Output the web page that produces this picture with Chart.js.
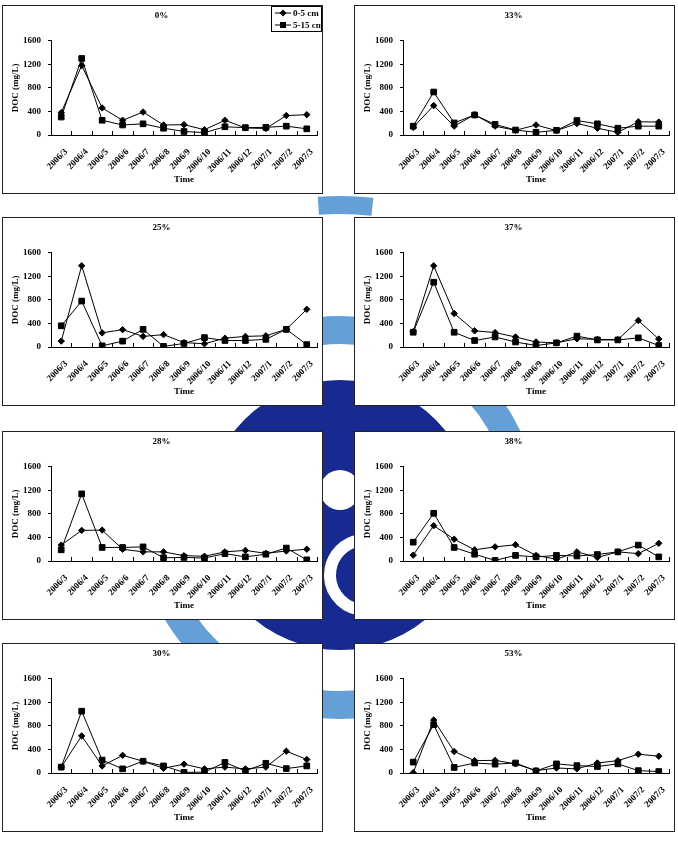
<!DOCTYPE html>
<html>
<head>
<meta charset="utf-8">
<script src="https://cdn.jsdelivr.net/npm/chart.js@4.4.0/dist/chart.umd.min.js"></script>
<style>
  body { margin: 0; background: #fff; }
  #page { position: relative; width: 678px; height: 842px; overflow: hidden; }
  #logo { position: absolute; left: 0; top: 0; }
  .panel { position: absolute; width: 319px; height: 187px; border: 1px solid #222; background: #fff; }
  .panel canvas { display: block; }
</style>
</head>
<body>
<div id="page">
  <canvas id="logo" width="678" height="842"></canvas>
  <div class="panel" style="left:2px;top:5px"><canvas id="c0" width="319" height="187"></canvas></div>
  <div class="panel" style="left:354px;top:5px"><canvas id="c1" width="319" height="187"></canvas></div>
  <div class="panel" style="left:2px;top:217px"><canvas id="c2" width="319" height="187"></canvas></div>
  <div class="panel" style="left:354px;top:217px"><canvas id="c3" width="319" height="187"></canvas></div>
  <div class="panel" style="left:2px;top:431px"><canvas id="c4" width="319" height="187"></canvas></div>
  <div class="panel" style="left:354px;top:431px"><canvas id="c5" width="319" height="187"></canvas></div>
  <div class="panel" style="left:2px;top:643px"><canvas id="c6" width="319" height="187"></canvas></div>
  <div class="panel" style="left:354px;top:643px"><canvas id="c7" width="319" height="187"></canvas></div>
</div>
<script>
// months sampled
var months = ['2006/3', '2006/4', '2006/5', '2006/6', '2006/7', '2006/8', '2006/9',
              '2006/10', '2006/11', '2006/12', '2007/1', '2007/2', '2007/3'];
var panelNames = ['0%', '33%', '25%', '37%', '28%', '38%', '30%', '53%'];
var depthLabels = ['0-5 cm', '5-15 cm'];
var yTicks = [0, 400, 800, 1200, 1600];

// DOC (mg/L), 0-5 cm and 5-15 cm, one pair per panel
var top_0  = [380, 1180, 460, 250, 390, 170, 175, 90, 250, 120, 110, 330, 345];
var sub_0  = [305, 1300, 250, 170, 190, 115, 60, 40, 140, 125, 130, 150, 105];
var top_33 = [130, 500, 150, 345, 150, 80, 170, 75, 195, 115, 45, 225, 220];
var sub_33 = [150, 730, 205, 340, 180, 85, 45, 80, 245, 190, 115, 150, 150];
var top_25 = [100, 1380, 240, 295, 180, 210, 75, 55, 150, 180, 190, 300, 640];
var sub_25 = [360, 780, 20, 100, 300, 10, 60, 160, 110, 110, 130, 300, 40];
var top_37 = [260, 1380, 570, 275, 245, 170, 85, 70, 140, 130, 125, 450, 135];
var sub_37 = [250, 1100, 250, 110, 170, 85, 25, 70, 185, 120, 120, 155, 25];
var top_28 = [270, 520, 525, 200, 155, 155, 90, 80, 155, 180, 130, 170, 200];
var sub_28 = [190, 1140, 230, 230, 240, 55, 60, 50, 125, 70, 115, 220, 20];
var top_38 = [100, 600, 370, 190, 240, 275, 95, 30, 155, 60, 155, 125, 300];
var sub_38 = [320, 810, 230, 115, 10, 95, 70, 95, 85, 110, 155, 270, 70];
var top_30 = [100, 630, 120, 300, 200, 80, 150, 70, 100, 70, 100, 370, 230];
var sub_30 = [100, 1050, 220, 70, 200, 120, 10, 15, 180, 35, 165, 75, 120];
var top_53 = [5, 900, 365, 210, 215, 155, 40, 85, 70, 170, 210, 320, 285];
var sub_53 = [185, 820, 95, 170, 150, 170, 35, 155, 125, 110, 155, 40, 25];

var topSets = [top_0, top_33, top_25, top_37, top_28, top_38, top_30, top_53];
var subSets = [sub_0, sub_33, sub_25, sub_37, sub_28, sub_38, sub_30, sub_53];

// faint logo behind the panels
(function () {
    var g = document.getElementById('logo').getContext('2d');
    var cx = 340, cy = 515;
    g.strokeStyle = 'rgb(100,160,215)';
    g.lineWidth = 28;
    g.beginPath(); g.arc(cx, cy, 185, -115 * Math.PI / 180, -20 * Math.PI / 180); g.stroke();
    g.beginPath(); g.arc(cx, cy, 190, 60 * Math.PI / 180, 160 * Math.PI / 180); g.stroke();
    g.lineWidth = 18;
    g.beginPath(); g.arc(cx, cy, 310, -94 * Math.PI / 180, -84 * Math.PI / 180); g.stroke();
    g.fillStyle = 'rgb(22,42,145)';
    g.beginPath(); g.arc(cx, cy, 135, 0, Math.PI * 2); g.fill();
    g.fillStyle = '#fff';
    g.beginPath(); g.arc(340, 490, 20, 0, Math.PI * 2); g.fill();
    g.strokeStyle = '#fff';
    g.lineWidth = 12;
    g.beginPath(); g.arc(365, 575, 35, 100 * Math.PI / 180, 260 * Math.PI / 180); g.stroke();
})();

Chart.defaults.font.family = '"Liberation Serif", "Times New Roman", serif';
Chart.defaults.font.weight = 'bold';
Chart.defaults.font.size = 9;
Chart.defaults.color = '#000';

// excel style tick marks pointing up into the plot, between months
var innerTicks = {
    id: 'innerTicks',
    afterDraw: function (chart) {
        var xs = chart.scales.x, ctx = chart.ctx;
        var b = chart.chartArea.bottom;
        ctx.save();
        ctx.strokeStyle = '#000';
        ctx.lineWidth = 1;
        for (var i = 1; i <= months.length; i++) {
            var x = Math.round(xs.getPixelForValue(i - 0.5)) + 0.5;
            ctx.beginPath();
            ctx.moveTo(x, b);
            ctx.lineTo(x, b - 4);
            ctx.stroke();
        }
        ctx.restore();
    }
};

// legend box in the corner of the first panel
var cornerLegend = {
    id: 'cornerLegend',
    afterDraw: function (chart) {
        var ctx = chart.ctx;
        ctx.save();
        ctx.fillStyle = '#fff';
        ctx.fillRect(268.5, 0.5, 50, 25);
        ctx.strokeStyle = '#000';
        ctx.lineWidth = 1;
        ctx.strokeRect(268.5, 0.5, 50, 25);
        ctx.font = 'bold 9px "Liberation Serif", serif';
        ctx.textBaseline = 'middle';
        chart.data.datasets.forEach(function (ds, i) {
            var y = 7 + i * 12;
            ctx.strokeStyle = '#000';
            ctx.beginPath(); ctx.moveTo(272, y); ctx.lineTo(288, y); ctx.stroke();
            ctx.fillStyle = '#000';
            ctx.beginPath();
            if (ds.pointStyle === 'rectRot') {
                ctx.moveTo(280, y - 3.5); ctx.lineTo(283.5, y); ctx.lineTo(280, y + 3.5); ctx.lineTo(276.5, y);
                ctx.closePath();
            } else {
                ctx.rect(277, y - 3, 6, 6);
            }
            ctx.fill();
            ctx.fillText(ds.label, 290, y + 0.5);
        });
        ctx.restore();
    }
};

var charts = [];
for (var p = 0; p < 8; p++) {
    var plugins = [innerTicks];
    if (p === 0) plugins.push(cornerLegend);
    charts.push(new Chart(document.getElementById('c' + p).getContext('2d'), {
        type: 'line',
        data: {
            labels: months,
            datasets: [{
                label: depthLabels[0],
                data: topSets[p],
                borderColor: '#000',
                backgroundColor: '#000',
                borderWidth: 1,
                pointStyle: 'rectRot',
                pointRadius: 3.2,
                pointBorderWidth: 1,
                tension: 0
            }, {
                label: depthLabels[1],
                data: subSets[p],
                borderColor: '#000',
                backgroundColor: '#000',
                borderWidth: 1,
                pointStyle: 'rect',
                pointRadius: 4,
                pointBorderWidth: 1,
                tension: 0
            }]
        },
        options: {
            responsive: false,
            animation: false,
            devicePixelRatio: 1,
            events: [],
            layout: { padding: { left: 0, right: 2, top: 0, bottom: 0 } },
            plugins: {
                legend: { display: false },
                tooltip: { enabled: false },
                title: {
                    display: true,
                    text: panelNames[p],
                    font: { size: 9, weight: 'bold' },
                    padding: { top: 4, bottom: 20 }
                }
            },
            scales: {
                x: {
                    offset: true,
                    grid: { display: false },
                    border: { display: true, color: '#000', width: 1 },
                    ticks: { autoSkip: false, minRotation: 45, maxRotation: 45, padding: 3.5, labelOffset: 5 },
                    title: { display: true, text: 'Time', padding: { top: 0, bottom: 7.5 } },
                    afterFit: function (s) { s.height = 58; }
                },
                y: {
                    min: 0,
                    max: 1600,
                    afterBuildTicks: function (s) { s.ticks = yTicks.map(function (v) { return { value: v }; }); },
                    grid: { display: true, drawOnChartArea: false, drawTicks: true, tickLength: 3, color: '#000' },
                    border: { display: true, color: '#000', width: 1 },
                    ticks: { padding: 7, callback: function (v) { return String(v); } },
                    title: { display: true, text: 'DOC (mg/L)', padding: { top: 7.6, bottom: 0 } },
                    afterFit: function (s) { s.width = 48; }
                }
            }
        },
        plugins: plugins
    }));
}
</script>
</body>
</html>
